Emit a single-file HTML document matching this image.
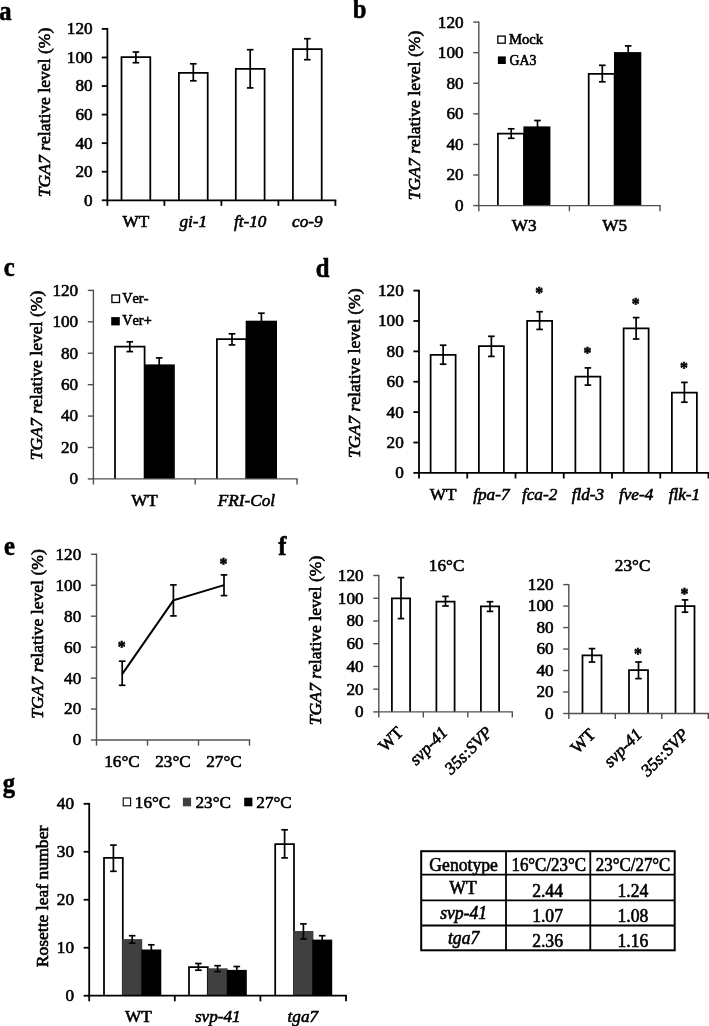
<!DOCTYPE html>
<html><head><meta charset="utf-8"><title>Figure</title>
<style>html,body{margin:0;padding:0;background:#fff}svg{display:block}text{font-family:"Liberation Serif",serif;fill:#000;font-kerning:none;stroke:#000;stroke-width:0.6px}</style>
</head><body>
<svg width="709" height="1026" viewBox="0 0 709 1026">
<rect width="709" height="1026" fill="#fff"/>
<text transform="translate(-0.80,19.60) scale(0.88,1)" text-anchor="start" font-size="28" font-weight="bold">a</text>
<text transform="translate(50.00,112.50) rotate(-90)" text-anchor="middle" font-size="17.6"><tspan font-style="italic">TGA7 r</tspan>elative level (%)</text>
<path d="M121.50 200.30V57.20H150.30V200.30" fill="#fff" stroke="#000" stroke-width="1.75"/>
<line x1="135.90" y1="52.00" x2="135.90" y2="62.70" stroke="#000" stroke-width="1.7"/>
<line x1="132.60" y1="52.00" x2="139.20" y2="52.00" stroke="#000" stroke-width="1.7"/>
<line x1="132.60" y1="62.70" x2="139.20" y2="62.70" stroke="#000" stroke-width="1.7"/>
<path d="M178.90 200.30V72.80H207.70V200.30" fill="#fff" stroke="#000" stroke-width="1.75"/>
<line x1="193.30" y1="63.80" x2="193.30" y2="80.80" stroke="#000" stroke-width="1.7"/>
<line x1="190.00" y1="63.80" x2="196.60" y2="63.80" stroke="#000" stroke-width="1.7"/>
<line x1="190.00" y1="80.80" x2="196.60" y2="80.80" stroke="#000" stroke-width="1.7"/>
<path d="M235.80 200.30V68.80H264.60V200.30" fill="#fff" stroke="#000" stroke-width="1.75"/>
<line x1="250.20" y1="49.70" x2="250.20" y2="87.90" stroke="#000" stroke-width="1.7"/>
<line x1="246.90" y1="49.70" x2="253.50" y2="49.70" stroke="#000" stroke-width="1.7"/>
<line x1="246.90" y1="87.90" x2="253.50" y2="87.90" stroke="#000" stroke-width="1.7"/>
<path d="M292.90 200.30V49.20H321.70V200.30" fill="#fff" stroke="#000" stroke-width="1.75"/>
<line x1="307.30" y1="38.70" x2="307.30" y2="59.70" stroke="#000" stroke-width="1.7"/>
<line x1="304.00" y1="38.70" x2="310.60" y2="38.70" stroke="#000" stroke-width="1.7"/>
<line x1="304.00" y1="59.70" x2="310.60" y2="59.70" stroke="#000" stroke-width="1.7"/>
<line x1="107.40" y1="28.00" x2="107.40" y2="205.90" stroke="#000" stroke-width="1.8"/>
<line x1="101.80" y1="200.30" x2="107.40" y2="200.30" stroke="#000" stroke-width="1.8"/>
<text transform="translate(92.60,205.70) scale(1.0,1)" text-anchor="end" font-size="17.2">0</text>
<line x1="101.80" y1="171.73" x2="107.40" y2="171.73" stroke="#000" stroke-width="1.8"/>
<text transform="translate(92.60,177.13) scale(1.0,1)" text-anchor="end" font-size="17.2">20</text>
<line x1="101.80" y1="143.17" x2="107.40" y2="143.17" stroke="#000" stroke-width="1.8"/>
<text transform="translate(92.60,148.57) scale(1.0,1)" text-anchor="end" font-size="17.2">40</text>
<line x1="101.80" y1="114.60" x2="107.40" y2="114.60" stroke="#000" stroke-width="1.8"/>
<text transform="translate(92.60,120.00) scale(1.0,1)" text-anchor="end" font-size="17.2">60</text>
<line x1="101.80" y1="86.03" x2="107.40" y2="86.03" stroke="#000" stroke-width="1.8"/>
<text transform="translate(92.60,91.43) scale(1.0,1)" text-anchor="end" font-size="17.2">80</text>
<line x1="101.80" y1="57.47" x2="107.40" y2="57.47" stroke="#000" stroke-width="1.8"/>
<text transform="translate(92.60,62.87) scale(1.0,1)" text-anchor="end" font-size="17.2">100</text>
<line x1="101.80" y1="28.90" x2="107.40" y2="28.90" stroke="#000" stroke-width="1.8"/>
<text transform="translate(92.60,34.30) scale(1.0,1)" text-anchor="end" font-size="17.2">120</text>
<line x1="106.50" y1="200.30" x2="336.30" y2="200.30" stroke="#000" stroke-width="1.8"/>
<line x1="164.40" y1="200.30" x2="164.40" y2="205.90" stroke="#000" stroke-width="1.8"/>
<line x1="221.40" y1="200.30" x2="221.40" y2="205.90" stroke="#000" stroke-width="1.8"/>
<line x1="278.40" y1="200.30" x2="278.40" y2="205.90" stroke="#000" stroke-width="1.8"/>
<line x1="335.40" y1="200.30" x2="335.40" y2="205.90" stroke="#000" stroke-width="1.8"/>
<text transform="translate(135.90,227.00) scale(1.0,1)" text-anchor="middle" font-size="17.2">WT</text>
<text transform="translate(193.30,227.00) scale(1.0,1)" text-anchor="middle" font-size="17.2" font-style="italic">gi-1</text>
<text transform="translate(250.20,227.00) scale(1.0,1)" text-anchor="middle" font-size="17.2" font-style="italic">ft-10</text>
<text transform="translate(307.30,227.00) scale(1.0,1)" text-anchor="middle" font-size="17.2" font-style="italic">co-9</text>
<text transform="translate(352.80,18.00) scale(0.88,1)" text-anchor="start" font-size="28" font-weight="bold">b</text>
<text transform="translate(419.50,115.50) rotate(-90)" text-anchor="middle" font-size="17.6"><tspan font-style="italic">TGA7 r</tspan>elative level (%)</text>
<path d="M497.90 205.60V133.50H524.00V205.60" fill="#fff" stroke="#000" stroke-width="1.75"/>
<line x1="511.20" y1="128.80" x2="511.20" y2="138.30" stroke="#000" stroke-width="1.7"/>
<line x1="507.90" y1="128.80" x2="514.50" y2="128.80" stroke="#000" stroke-width="1.7"/>
<line x1="507.90" y1="138.30" x2="514.50" y2="138.30" stroke="#000" stroke-width="1.7"/>
<rect x="523.40" y="126.40" width="27.00" height="79.20" fill="#000"/>
<line x1="537.50" y1="120.50" x2="537.50" y2="127.00" stroke="#000" stroke-width="1.7"/>
<line x1="534.20" y1="120.50" x2="540.80" y2="120.50" stroke="#000" stroke-width="1.7"/>
<path d="M588.70 205.60V73.80H614.60V205.60" fill="#fff" stroke="#000" stroke-width="1.75"/>
<line x1="602.30" y1="65.30" x2="602.30" y2="81.80" stroke="#000" stroke-width="1.7"/>
<line x1="599.00" y1="65.30" x2="605.60" y2="65.30" stroke="#000" stroke-width="1.7"/>
<line x1="599.00" y1="81.80" x2="605.60" y2="81.80" stroke="#000" stroke-width="1.7"/>
<rect x="614.00" y="52.10" width="27.30" height="153.50" fill="#000"/>
<line x1="628.20" y1="45.90" x2="628.20" y2="52.70" stroke="#000" stroke-width="1.7"/>
<line x1="624.90" y1="45.90" x2="631.50" y2="45.90" stroke="#000" stroke-width="1.7"/>
<line x1="478.80" y1="21.40" x2="478.80" y2="211.20" stroke="#505050" stroke-width="1.4"/>
<line x1="473.20" y1="205.60" x2="478.80" y2="205.60" stroke="#505050" stroke-width="1.4"/>
<text transform="translate(463.60,211.00) scale(1.0,1)" text-anchor="end" font-size="17.2">0</text>
<line x1="473.20" y1="175.02" x2="478.80" y2="175.02" stroke="#505050" stroke-width="1.4"/>
<text transform="translate(463.60,180.42) scale(1.0,1)" text-anchor="end" font-size="17.2">20</text>
<line x1="473.20" y1="144.43" x2="478.80" y2="144.43" stroke="#505050" stroke-width="1.4"/>
<text transform="translate(463.60,149.83) scale(1.0,1)" text-anchor="end" font-size="17.2">40</text>
<line x1="473.20" y1="113.85" x2="478.80" y2="113.85" stroke="#505050" stroke-width="1.4"/>
<text transform="translate(463.60,119.25) scale(1.0,1)" text-anchor="end" font-size="17.2">60</text>
<line x1="473.20" y1="83.27" x2="478.80" y2="83.27" stroke="#505050" stroke-width="1.4"/>
<text transform="translate(463.60,88.67) scale(1.0,1)" text-anchor="end" font-size="17.2">80</text>
<line x1="473.20" y1="52.68" x2="478.80" y2="52.68" stroke="#505050" stroke-width="1.4"/>
<text transform="translate(463.60,58.08) scale(1.0,1)" text-anchor="end" font-size="17.2">100</text>
<line x1="473.20" y1="22.10" x2="478.80" y2="22.10" stroke="#505050" stroke-width="1.4"/>
<text transform="translate(463.60,27.50) scale(1.0,1)" text-anchor="end" font-size="17.2">120</text>
<line x1="478.10" y1="205.60" x2="660.70" y2="205.60" stroke="#505050" stroke-width="1.4"/>
<line x1="569.40" y1="205.60" x2="569.40" y2="211.20" stroke="#505050" stroke-width="1.4"/>
<line x1="660.00" y1="205.60" x2="660.00" y2="211.20" stroke="#505050" stroke-width="1.4"/>
<text transform="translate(524.10,231.00) scale(1.0,1)" text-anchor="middle" font-size="17.2">W3</text>
<text transform="translate(614.70,231.00) scale(1.0,1)" text-anchor="middle" font-size="17.2">W5</text>
<rect x="497.8" y="36.1" width="7.4" height="7.1" fill="#fff" stroke="#000" stroke-width="1.3"/>
<text transform="translate(509.00,44.10) scale(1.0,1)" text-anchor="start" font-size="14.6">Mock</text>
<rect x="497.9" y="56.4" width="7.9" height="7.6" fill="#000"/>
<text transform="translate(509.40,64.50) scale(0.95,1)" text-anchor="start" font-size="14.6">GA3</text>
<text transform="translate(3.80,275.70) scale(0.88,1)" text-anchor="start" font-size="28" font-weight="bold">c</text>
<text transform="translate(42.00,375.50) rotate(-90)" text-anchor="middle" font-size="17.6"><tspan font-style="italic">TGA7 r</tspan>elative level (%)</text>
<path d="M115.00 478.90V346.60H144.60V478.90" fill="#fff" stroke="#000" stroke-width="1.75"/>
<line x1="129.80" y1="341.80" x2="129.80" y2="351.60" stroke="#000" stroke-width="1.7"/>
<line x1="126.50" y1="341.80" x2="133.10" y2="341.80" stroke="#000" stroke-width="1.7"/>
<line x1="126.50" y1="351.60" x2="133.10" y2="351.60" stroke="#000" stroke-width="1.7"/>
<rect x="144.00" y="364.40" width="30.80" height="114.50" fill="#000"/>
<line x1="159.20" y1="357.90" x2="159.20" y2="365.00" stroke="#000" stroke-width="1.7"/>
<line x1="155.90" y1="357.90" x2="162.50" y2="357.90" stroke="#000" stroke-width="1.7"/>
<path d="M216.90 478.90V339.10H246.30V478.90" fill="#fff" stroke="#000" stroke-width="1.75"/>
<line x1="232.00" y1="333.80" x2="232.00" y2="344.90" stroke="#000" stroke-width="1.7"/>
<line x1="228.70" y1="333.80" x2="235.30" y2="333.80" stroke="#000" stroke-width="1.7"/>
<line x1="228.70" y1="344.90" x2="235.30" y2="344.90" stroke="#000" stroke-width="1.7"/>
<rect x="245.70" y="320.70" width="31.30" height="158.20" fill="#000"/>
<line x1="261.40" y1="313.20" x2="261.40" y2="321.30" stroke="#000" stroke-width="1.7"/>
<line x1="258.10" y1="313.20" x2="264.70" y2="313.20" stroke="#000" stroke-width="1.7"/>
<line x1="93.40" y1="289.70" x2="93.40" y2="484.50" stroke="#505050" stroke-width="1.4"/>
<line x1="87.80" y1="478.90" x2="93.40" y2="478.90" stroke="#505050" stroke-width="1.4"/>
<text transform="translate(78.20,484.30) scale(1.0,1)" text-anchor="end" font-size="17.2">0</text>
<line x1="87.80" y1="447.48" x2="93.40" y2="447.48" stroke="#505050" stroke-width="1.4"/>
<text transform="translate(78.20,452.88) scale(1.0,1)" text-anchor="end" font-size="17.2">20</text>
<line x1="87.80" y1="416.07" x2="93.40" y2="416.07" stroke="#505050" stroke-width="1.4"/>
<text transform="translate(78.20,421.47) scale(1.0,1)" text-anchor="end" font-size="17.2">40</text>
<line x1="87.80" y1="384.65" x2="93.40" y2="384.65" stroke="#505050" stroke-width="1.4"/>
<text transform="translate(78.20,390.05) scale(1.0,1)" text-anchor="end" font-size="17.2">60</text>
<line x1="87.80" y1="353.23" x2="93.40" y2="353.23" stroke="#505050" stroke-width="1.4"/>
<text transform="translate(78.20,358.63) scale(1.0,1)" text-anchor="end" font-size="17.2">80</text>
<line x1="87.80" y1="321.82" x2="93.40" y2="321.82" stroke="#505050" stroke-width="1.4"/>
<text transform="translate(78.20,327.22) scale(1.0,1)" text-anchor="end" font-size="17.2">100</text>
<line x1="87.80" y1="290.40" x2="93.40" y2="290.40" stroke="#505050" stroke-width="1.4"/>
<text transform="translate(78.20,295.80) scale(1.0,1)" text-anchor="end" font-size="17.2">120</text>
<line x1="92.70" y1="478.90" x2="297.70" y2="478.90" stroke="#505050" stroke-width="1.4"/>
<line x1="195.20" y1="478.90" x2="195.20" y2="484.50" stroke="#505050" stroke-width="1.4"/>
<line x1="297.00" y1="478.90" x2="297.00" y2="484.50" stroke="#505050" stroke-width="1.4"/>
<text transform="translate(144.50,505.50) scale(1.0,1)" text-anchor="middle" font-size="17.2">WT</text>
<text transform="translate(246.50,505.50) scale(1.0,1)" text-anchor="middle" font-size="17.2" font-style="italic">FRI-Col</text>
<rect x="111.9" y="295.0" width="7.6" height="7.5" fill="#fff" stroke="#000" stroke-width="1.3"/>
<text transform="translate(122.20,303.30) scale(0.96,1)" text-anchor="start" font-size="14.9">Ver-</text>
<rect x="111.2" y="317.1" width="8.6" height="8.3" fill="#000"/>
<text transform="translate(122.20,325.10) scale(0.96,1)" text-anchor="start" font-size="14.9">Ver+</text>
<text transform="translate(315.80,276.60) scale(0.88,1)" text-anchor="start" font-size="28" font-weight="bold">d</text>
<text transform="translate(360.00,373.20) rotate(-90)" text-anchor="middle" font-size="17.6"><tspan font-style="italic">TGA7 r</tspan>elative level (%)</text>
<path d="M430.62 472.90V354.80H455.62V472.90" fill="#fff" stroke="#000" stroke-width="1.75"/>
<line x1="443.12" y1="345.20" x2="443.12" y2="364.20" stroke="#000" stroke-width="1.7"/>
<line x1="439.82" y1="345.20" x2="446.43" y2="345.20" stroke="#000" stroke-width="1.7"/>
<line x1="439.82" y1="364.20" x2="446.43" y2="364.20" stroke="#000" stroke-width="1.7"/>
<text transform="translate(443.12,499.50) scale(1.0,1)" text-anchor="middle" font-size="17.2">WT</text>
<path d="M478.88 472.90V346.20H503.88V472.90" fill="#fff" stroke="#000" stroke-width="1.75"/>
<line x1="491.38" y1="336.30" x2="491.38" y2="356.40" stroke="#000" stroke-width="1.7"/>
<line x1="488.07" y1="336.30" x2="494.68" y2="336.30" stroke="#000" stroke-width="1.7"/>
<line x1="488.07" y1="356.40" x2="494.68" y2="356.40" stroke="#000" stroke-width="1.7"/>
<text transform="translate(491.38,499.50) scale(1.0,1)" text-anchor="middle" font-size="17.2" font-style="italic">fpa-7</text>
<path d="M527.12 472.90V320.80H552.12V472.90" fill="#fff" stroke="#000" stroke-width="1.75"/>
<line x1="539.62" y1="311.70" x2="539.62" y2="329.40" stroke="#000" stroke-width="1.7"/>
<line x1="536.33" y1="311.70" x2="542.92" y2="311.70" stroke="#000" stroke-width="1.7"/>
<line x1="536.33" y1="329.40" x2="542.92" y2="329.40" stroke="#000" stroke-width="1.7"/>
<text transform="translate(539.12,298.40) scale(0.93,1)" text-anchor="middle" font-size="17" font-weight="bold">*</text>
<text transform="translate(539.62,499.50) scale(1.0,1)" text-anchor="middle" font-size="17.2" font-style="italic">fca-2</text>
<path d="M575.38 472.90V376.50H600.38V472.90" fill="#fff" stroke="#000" stroke-width="1.75"/>
<line x1="587.88" y1="367.90" x2="587.88" y2="385.10" stroke="#000" stroke-width="1.7"/>
<line x1="584.58" y1="367.90" x2="591.17" y2="367.90" stroke="#000" stroke-width="1.7"/>
<line x1="584.58" y1="385.10" x2="591.17" y2="385.10" stroke="#000" stroke-width="1.7"/>
<text transform="translate(587.38,357.90) scale(0.93,1)" text-anchor="middle" font-size="17" font-weight="bold">*</text>
<text transform="translate(587.88,499.50) scale(1.0,1)" text-anchor="middle" font-size="17.2" font-style="italic">fld-3</text>
<path d="M623.62 472.90V328.30H648.62V472.90" fill="#fff" stroke="#000" stroke-width="1.75"/>
<line x1="636.12" y1="317.60" x2="636.12" y2="339.00" stroke="#000" stroke-width="1.7"/>
<line x1="632.83" y1="317.60" x2="639.42" y2="317.60" stroke="#000" stroke-width="1.7"/>
<line x1="632.83" y1="339.00" x2="639.42" y2="339.00" stroke="#000" stroke-width="1.7"/>
<text transform="translate(635.62,309.10) scale(0.93,1)" text-anchor="middle" font-size="17" font-weight="bold">*</text>
<text transform="translate(636.12,499.50) scale(1.0,1)" text-anchor="middle" font-size="17.2" font-style="italic">fve-4</text>
<path d="M671.88 472.90V392.60H696.88V472.90" fill="#fff" stroke="#000" stroke-width="1.75"/>
<line x1="684.38" y1="382.40" x2="684.38" y2="402.20" stroke="#000" stroke-width="1.7"/>
<line x1="681.08" y1="382.40" x2="687.67" y2="382.40" stroke="#000" stroke-width="1.7"/>
<line x1="681.08" y1="402.20" x2="687.67" y2="402.20" stroke="#000" stroke-width="1.7"/>
<text transform="translate(683.88,372.90) scale(0.93,1)" text-anchor="middle" font-size="17" font-weight="bold">*</text>
<text transform="translate(684.38,499.50) scale(1.0,1)" text-anchor="middle" font-size="17.2" font-style="italic">flk-1</text>
<line x1="419.00" y1="289.70" x2="419.00" y2="478.50" stroke="#000" stroke-width="1.8"/>
<line x1="413.40" y1="472.90" x2="419.00" y2="472.90" stroke="#000" stroke-width="1.8"/>
<text transform="translate(403.80,478.30) scale(1.0,1)" text-anchor="end" font-size="17.2">0</text>
<line x1="413.40" y1="442.52" x2="419.00" y2="442.52" stroke="#000" stroke-width="1.8"/>
<text transform="translate(403.80,447.92) scale(1.0,1)" text-anchor="end" font-size="17.2">20</text>
<line x1="413.40" y1="412.13" x2="419.00" y2="412.13" stroke="#000" stroke-width="1.8"/>
<text transform="translate(403.80,417.53) scale(1.0,1)" text-anchor="end" font-size="17.2">40</text>
<line x1="413.40" y1="381.75" x2="419.00" y2="381.75" stroke="#000" stroke-width="1.8"/>
<text transform="translate(403.80,387.15) scale(1.0,1)" text-anchor="end" font-size="17.2">60</text>
<line x1="413.40" y1="351.37" x2="419.00" y2="351.37" stroke="#000" stroke-width="1.8"/>
<text transform="translate(403.80,356.77) scale(1.0,1)" text-anchor="end" font-size="17.2">80</text>
<line x1="413.40" y1="320.98" x2="419.00" y2="320.98" stroke="#000" stroke-width="1.8"/>
<text transform="translate(403.80,326.38) scale(1.0,1)" text-anchor="end" font-size="17.2">100</text>
<line x1="413.40" y1="290.60" x2="419.00" y2="290.60" stroke="#000" stroke-width="1.8"/>
<text transform="translate(403.80,296.00) scale(1.0,1)" text-anchor="end" font-size="17.2">120</text>
<line x1="418.10" y1="472.90" x2="709.40" y2="472.90" stroke="#000" stroke-width="1.8"/>
<line x1="467.25" y1="472.90" x2="467.25" y2="478.50" stroke="#000" stroke-width="1.8"/>
<line x1="515.50" y1="472.90" x2="515.50" y2="478.50" stroke="#000" stroke-width="1.8"/>
<line x1="563.75" y1="472.90" x2="563.75" y2="478.50" stroke="#000" stroke-width="1.8"/>
<line x1="612.00" y1="472.90" x2="612.00" y2="478.50" stroke="#000" stroke-width="1.8"/>
<line x1="660.25" y1="472.90" x2="660.25" y2="478.50" stroke="#000" stroke-width="1.8"/>
<line x1="708.50" y1="472.90" x2="708.50" y2="478.50" stroke="#000" stroke-width="1.8"/>
<text transform="translate(4.00,554.80) scale(0.88,1)" text-anchor="start" font-size="28" font-weight="bold">e</text>
<text transform="translate(43.00,634.00) rotate(-90)" text-anchor="middle" font-size="17.6"><tspan font-style="italic">TGA7 r</tspan>elative level (%)</text>
<line x1="96.50" y1="553.60" x2="96.50" y2="745.60" stroke="#505050" stroke-width="1.4"/>
<line x1="90.90" y1="740.00" x2="96.50" y2="740.00" stroke="#505050" stroke-width="1.4"/>
<text transform="translate(81.30,745.40) scale(1.0,1)" text-anchor="end" font-size="17.2">0</text>
<line x1="90.90" y1="709.05" x2="96.50" y2="709.05" stroke="#505050" stroke-width="1.4"/>
<text transform="translate(81.30,714.45) scale(1.0,1)" text-anchor="end" font-size="17.2">20</text>
<line x1="90.90" y1="678.10" x2="96.50" y2="678.10" stroke="#505050" stroke-width="1.4"/>
<text transform="translate(81.30,683.50) scale(1.0,1)" text-anchor="end" font-size="17.2">40</text>
<line x1="90.90" y1="647.15" x2="96.50" y2="647.15" stroke="#505050" stroke-width="1.4"/>
<text transform="translate(81.30,652.55) scale(1.0,1)" text-anchor="end" font-size="17.2">60</text>
<line x1="90.90" y1="616.20" x2="96.50" y2="616.20" stroke="#505050" stroke-width="1.4"/>
<text transform="translate(81.30,621.60) scale(1.0,1)" text-anchor="end" font-size="17.2">80</text>
<line x1="90.90" y1="585.25" x2="96.50" y2="585.25" stroke="#505050" stroke-width="1.4"/>
<text transform="translate(81.30,590.65) scale(1.0,1)" text-anchor="end" font-size="17.2">100</text>
<line x1="90.90" y1="554.30" x2="96.50" y2="554.30" stroke="#505050" stroke-width="1.4"/>
<text transform="translate(81.30,559.70) scale(1.0,1)" text-anchor="end" font-size="17.2">120</text>
<line x1="95.80" y1="740.00" x2="250.20" y2="740.00" stroke="#505050" stroke-width="1.4"/>
<line x1="147.50" y1="740.00" x2="147.50" y2="745.60" stroke="#505050" stroke-width="1.4"/>
<line x1="198.50" y1="740.00" x2="198.50" y2="745.60" stroke="#505050" stroke-width="1.4"/>
<line x1="249.50" y1="740.00" x2="249.50" y2="745.60" stroke="#505050" stroke-width="1.4"/>
<polyline points="122.2,674.1 173.4,600.4 224,585.1" fill="none" stroke="#000" stroke-width="2"/>
<line x1="122.20" y1="661.20" x2="122.20" y2="685.30" stroke="#000" stroke-width="1.7"/>
<line x1="118.90" y1="661.20" x2="125.50" y2="661.20" stroke="#000" stroke-width="1.7"/>
<line x1="118.90" y1="685.30" x2="125.50" y2="685.30" stroke="#000" stroke-width="1.7"/>
<line x1="173.40" y1="584.90" x2="173.40" y2="615.90" stroke="#000" stroke-width="1.7"/>
<line x1="170.10" y1="584.90" x2="176.70" y2="584.90" stroke="#000" stroke-width="1.7"/>
<line x1="170.10" y1="615.90" x2="176.70" y2="615.90" stroke="#000" stroke-width="1.7"/>
<line x1="224.00" y1="574.90" x2="224.00" y2="595.60" stroke="#000" stroke-width="1.7"/>
<line x1="220.70" y1="574.90" x2="227.30" y2="574.90" stroke="#000" stroke-width="1.7"/>
<line x1="220.70" y1="595.60" x2="227.30" y2="595.60" stroke="#000" stroke-width="1.7"/>
<text transform="translate(121.70,652.20) scale(0.93,1)" text-anchor="middle" font-size="17" font-weight="bold">*</text>
<text transform="translate(223.50,569.40) scale(0.93,1)" text-anchor="middle" font-size="17" font-weight="bold">*</text>
<text transform="translate(122.00,766.50) scale(1.0,1)" text-anchor="middle" font-size="17.2">16°C</text>
<text transform="translate(173.00,766.50) scale(1.0,1)" text-anchor="middle" font-size="17.2">23°C</text>
<text transform="translate(224.00,766.50) scale(1.0,1)" text-anchor="middle" font-size="17.2">27°C</text>
<text transform="translate(278.30,555.40) scale(0.88,1)" text-anchor="start" font-size="28" font-weight="bold">f</text>
<text transform="translate(321.00,640.50) rotate(-90)" text-anchor="middle" font-size="17.6"><tspan font-style="italic">TGA7 r</tspan>elative level (%)</text>
<path d="M391.90 711.90V598.30H410.10V711.90" fill="#fff" stroke="#000" stroke-width="1.75"/>
<line x1="401.00" y1="577.60" x2="401.00" y2="618.60" stroke="#000" stroke-width="1.7"/>
<line x1="397.70" y1="577.60" x2="404.30" y2="577.60" stroke="#000" stroke-width="1.7"/>
<line x1="397.70" y1="618.60" x2="404.30" y2="618.60" stroke="#000" stroke-width="1.7"/>
<path d="M436.40 711.90V601.50H454.60V711.90" fill="#fff" stroke="#000" stroke-width="1.75"/>
<line x1="445.50" y1="596.40" x2="445.50" y2="606.00" stroke="#000" stroke-width="1.7"/>
<line x1="442.20" y1="596.40" x2="448.80" y2="596.40" stroke="#000" stroke-width="1.7"/>
<line x1="442.20" y1="606.00" x2="448.80" y2="606.00" stroke="#000" stroke-width="1.7"/>
<path d="M480.90 711.90V606.30H499.10V711.90" fill="#fff" stroke="#000" stroke-width="1.75"/>
<line x1="490.00" y1="601.70" x2="490.00" y2="611.40" stroke="#000" stroke-width="1.7"/>
<line x1="486.70" y1="601.70" x2="493.30" y2="601.70" stroke="#000" stroke-width="1.7"/>
<line x1="486.70" y1="611.40" x2="493.30" y2="611.40" stroke="#000" stroke-width="1.7"/>
<line x1="378.80" y1="574.80" x2="378.80" y2="717.50" stroke="#505050" stroke-width="1.4"/>
<line x1="373.20" y1="711.90" x2="378.80" y2="711.90" stroke="#505050" stroke-width="1.4"/>
<text transform="translate(363.60,717.30) scale(1.0,1)" text-anchor="end" font-size="17.2">0</text>
<line x1="373.20" y1="689.17" x2="378.80" y2="689.17" stroke="#505050" stroke-width="1.4"/>
<text transform="translate(363.60,694.57) scale(1.0,1)" text-anchor="end" font-size="17.2">20</text>
<line x1="373.20" y1="666.43" x2="378.80" y2="666.43" stroke="#505050" stroke-width="1.4"/>
<text transform="translate(363.60,671.83) scale(1.0,1)" text-anchor="end" font-size="17.2">40</text>
<line x1="373.20" y1="643.70" x2="378.80" y2="643.70" stroke="#505050" stroke-width="1.4"/>
<text transform="translate(363.60,649.10) scale(1.0,1)" text-anchor="end" font-size="17.2">60</text>
<line x1="373.20" y1="620.97" x2="378.80" y2="620.97" stroke="#505050" stroke-width="1.4"/>
<text transform="translate(363.60,626.37) scale(1.0,1)" text-anchor="end" font-size="17.2">80</text>
<line x1="373.20" y1="598.23" x2="378.80" y2="598.23" stroke="#505050" stroke-width="1.4"/>
<text transform="translate(363.60,603.63) scale(1.0,1)" text-anchor="end" font-size="17.2">100</text>
<line x1="373.20" y1="575.50" x2="378.80" y2="575.50" stroke="#505050" stroke-width="1.4"/>
<text transform="translate(363.60,580.90) scale(1.0,1)" text-anchor="end" font-size="17.2">120</text>
<line x1="378.10" y1="711.90" x2="513.00" y2="711.90" stroke="#505050" stroke-width="1.4"/>
<line x1="423.30" y1="711.90" x2="423.30" y2="717.50" stroke="#505050" stroke-width="1.4"/>
<line x1="467.80" y1="711.90" x2="467.80" y2="717.50" stroke="#505050" stroke-width="1.4"/>
<line x1="512.30" y1="711.90" x2="512.30" y2="717.50" stroke="#505050" stroke-width="1.4"/>
<text transform="translate(446.60,570.90) scale(1.0,1)" text-anchor="middle" font-size="17.2">16°C</text>
<text transform="translate(404.20,733.50) rotate(-45) scale(1.0,1)" text-anchor="end" font-size="17.2">WT</text>
<text transform="translate(448.70,733.50) rotate(-45) scale(1.0,1)" text-anchor="end" font-size="17.2" font-style="italic">svp-41</text>
<text transform="translate(493.20,733.50) rotate(-45) scale(1.0,1)" text-anchor="end" font-size="17.2" font-style="italic">35s:SVP</text>
<path d="M582.50 713.50V655.30H601.50V713.50" fill="#fff" stroke="#000" stroke-width="1.75"/>
<line x1="592.00" y1="648.60" x2="592.00" y2="662.00" stroke="#000" stroke-width="1.7"/>
<line x1="588.70" y1="648.60" x2="595.30" y2="648.60" stroke="#000" stroke-width="1.7"/>
<line x1="588.70" y1="662.00" x2="595.30" y2="662.00" stroke="#000" stroke-width="1.7"/>
<path d="M629.00 713.50V670.10H648.00V713.50" fill="#fff" stroke="#000" stroke-width="1.75"/>
<line x1="638.50" y1="662.00" x2="638.50" y2="678.60" stroke="#000" stroke-width="1.7"/>
<line x1="635.20" y1="662.00" x2="641.80" y2="662.00" stroke="#000" stroke-width="1.7"/>
<line x1="635.20" y1="678.60" x2="641.80" y2="678.60" stroke="#000" stroke-width="1.7"/>
<text transform="translate(638.00,658.90) scale(0.93,1)" text-anchor="middle" font-size="17" font-weight="bold">*</text>
<path d="M675.50 713.50V606.00H694.50V713.50" fill="#fff" stroke="#000" stroke-width="1.75"/>
<line x1="685.00" y1="599.90" x2="685.00" y2="612.20" stroke="#000" stroke-width="1.7"/>
<line x1="681.70" y1="599.90" x2="688.30" y2="599.90" stroke="#000" stroke-width="1.7"/>
<line x1="681.70" y1="612.20" x2="688.30" y2="612.20" stroke="#000" stroke-width="1.7"/>
<text transform="translate(684.50,598.90) scale(0.93,1)" text-anchor="middle" font-size="17" font-weight="bold">*</text>
<line x1="568.80" y1="583.90" x2="568.80" y2="719.10" stroke="#505050" stroke-width="1.4"/>
<line x1="563.20" y1="713.50" x2="568.80" y2="713.50" stroke="#505050" stroke-width="1.4"/>
<text transform="translate(553.60,718.90) scale(1.0,1)" text-anchor="end" font-size="17.2">0</text>
<line x1="563.20" y1="692.02" x2="568.80" y2="692.02" stroke="#505050" stroke-width="1.4"/>
<text transform="translate(553.60,697.42) scale(1.0,1)" text-anchor="end" font-size="17.2">20</text>
<line x1="563.20" y1="670.53" x2="568.80" y2="670.53" stroke="#505050" stroke-width="1.4"/>
<text transform="translate(553.60,675.93) scale(1.0,1)" text-anchor="end" font-size="17.2">40</text>
<line x1="563.20" y1="649.05" x2="568.80" y2="649.05" stroke="#505050" stroke-width="1.4"/>
<text transform="translate(553.60,654.45) scale(1.0,1)" text-anchor="end" font-size="17.2">60</text>
<line x1="563.20" y1="627.57" x2="568.80" y2="627.57" stroke="#505050" stroke-width="1.4"/>
<text transform="translate(553.60,632.97) scale(1.0,1)" text-anchor="end" font-size="17.2">80</text>
<line x1="563.20" y1="606.08" x2="568.80" y2="606.08" stroke="#505050" stroke-width="1.4"/>
<text transform="translate(553.60,611.48) scale(1.0,1)" text-anchor="end" font-size="17.2">100</text>
<line x1="563.20" y1="584.60" x2="568.80" y2="584.60" stroke="#505050" stroke-width="1.4"/>
<text transform="translate(553.60,590.00) scale(1.0,1)" text-anchor="end" font-size="17.2">120</text>
<line x1="568.10" y1="713.50" x2="709.00" y2="713.50" stroke="#505050" stroke-width="1.4"/>
<line x1="615.30" y1="713.50" x2="615.30" y2="719.10" stroke="#505050" stroke-width="1.4"/>
<line x1="661.80" y1="713.50" x2="661.80" y2="719.10" stroke="#505050" stroke-width="1.4"/>
<line x1="708.30" y1="713.50" x2="708.30" y2="719.10" stroke="#505050" stroke-width="1.4"/>
<text transform="translate(632.60,570.90) scale(1.0,1)" text-anchor="middle" font-size="17.2">23°C</text>
<text transform="translate(596.50,735.50) rotate(-45) scale(1.0,1)" text-anchor="end" font-size="17.2">WT</text>
<text transform="translate(643.00,735.50) rotate(-45) scale(1.0,1)" text-anchor="end" font-size="17.2" font-style="italic">svp-41</text>
<text transform="translate(689.50,735.50) rotate(-45) scale(1.0,1)" text-anchor="end" font-size="17.2" font-style="italic">35s:SVP</text>
<text transform="translate(2.80,791.80) scale(0.88,1)" text-anchor="start" font-size="28" font-weight="bold">g</text>
<text transform="translate(48.00,896.50) rotate(-90)" text-anchor="middle" font-size="17.6">Rosette leaf number</text>
<path d="M104.00 995.70V857.90H122.80V995.70" fill="#fff" stroke="#000" stroke-width="1.75"/>
<line x1="113.40" y1="845.10" x2="113.40" y2="871.30" stroke="#000" stroke-width="1.7"/>
<line x1="110.10" y1="845.10" x2="116.70" y2="845.10" stroke="#000" stroke-width="1.7"/>
<line x1="110.10" y1="871.30" x2="116.70" y2="871.30" stroke="#000" stroke-width="1.7"/>
<rect x="122.20" y="939.10" width="20.00" height="56.60" fill="#404040"/>
<line x1="132.20" y1="935.70" x2="132.20" y2="943.20" stroke="#000" stroke-width="1.7"/>
<line x1="128.90" y1="935.70" x2="135.50" y2="935.70" stroke="#000" stroke-width="1.7"/>
<line x1="128.90" y1="943.20" x2="135.50" y2="943.20" stroke="#000" stroke-width="1.7"/>
<rect x="141.30" y="949.50" width="20.00" height="46.20" fill="#000"/>
<line x1="151.30" y1="944.80" x2="151.30" y2="950.10" stroke="#000" stroke-width="1.7"/>
<line x1="148.00" y1="944.80" x2="154.60" y2="944.80" stroke="#000" stroke-width="1.7"/>
<path d="M189.00 995.70V967.00H207.80V995.70" fill="#fff" stroke="#000" stroke-width="1.75"/>
<line x1="198.40" y1="963.50" x2="198.40" y2="970.20" stroke="#000" stroke-width="1.7"/>
<line x1="195.10" y1="963.50" x2="201.70" y2="963.50" stroke="#000" stroke-width="1.7"/>
<line x1="195.10" y1="970.20" x2="201.70" y2="970.20" stroke="#000" stroke-width="1.7"/>
<rect x="207.60" y="968.30" width="20.00" height="27.40" fill="#404040"/>
<line x1="217.60" y1="965.70" x2="217.60" y2="971.60" stroke="#000" stroke-width="1.7"/>
<line x1="214.30" y1="965.70" x2="220.90" y2="965.70" stroke="#000" stroke-width="1.7"/>
<line x1="214.30" y1="971.60" x2="220.90" y2="971.60" stroke="#000" stroke-width="1.7"/>
<rect x="226.80" y="969.90" width="20.00" height="25.80" fill="#000"/>
<line x1="236.80" y1="966.50" x2="236.80" y2="970.50" stroke="#000" stroke-width="1.7"/>
<line x1="233.50" y1="966.50" x2="240.10" y2="966.50" stroke="#000" stroke-width="1.7"/>
<path d="M275.20 995.70V844.00H294.00V995.70" fill="#fff" stroke="#000" stroke-width="1.75"/>
<line x1="284.60" y1="829.80" x2="284.60" y2="857.90" stroke="#000" stroke-width="1.7"/>
<line x1="281.30" y1="829.80" x2="287.90" y2="829.80" stroke="#000" stroke-width="1.7"/>
<line x1="281.30" y1="857.90" x2="287.90" y2="857.90" stroke="#000" stroke-width="1.7"/>
<rect x="293.40" y="931.00" width="20.00" height="64.70" fill="#404040"/>
<line x1="303.40" y1="923.90" x2="303.40" y2="938.90" stroke="#000" stroke-width="1.7"/>
<line x1="300.10" y1="923.90" x2="306.70" y2="923.90" stroke="#000" stroke-width="1.7"/>
<line x1="300.10" y1="938.90" x2="306.70" y2="938.90" stroke="#000" stroke-width="1.7"/>
<rect x="312.20" y="939.60" width="20.00" height="56.10" fill="#000"/>
<line x1="322.20" y1="935.70" x2="322.20" y2="940.20" stroke="#000" stroke-width="1.7"/>
<line x1="318.90" y1="935.70" x2="325.50" y2="935.70" stroke="#000" stroke-width="1.7"/>
<line x1="89.20" y1="802.90" x2="89.20" y2="1001.30" stroke="#000" stroke-width="1.8"/>
<line x1="83.60" y1="995.70" x2="89.20" y2="995.70" stroke="#000" stroke-width="1.8"/>
<text transform="translate(74.00,1001.10) scale(1.0,1)" text-anchor="end" font-size="17.2">0</text>
<line x1="83.60" y1="947.73" x2="89.20" y2="947.73" stroke="#000" stroke-width="1.8"/>
<text transform="translate(74.00,953.12) scale(1.0,1)" text-anchor="end" font-size="17.2">10</text>
<line x1="83.60" y1="899.75" x2="89.20" y2="899.75" stroke="#000" stroke-width="1.8"/>
<text transform="translate(74.00,905.15) scale(1.0,1)" text-anchor="end" font-size="17.2">20</text>
<line x1="83.60" y1="851.77" x2="89.20" y2="851.77" stroke="#000" stroke-width="1.8"/>
<text transform="translate(74.00,857.17) scale(1.0,1)" text-anchor="end" font-size="17.2">30</text>
<line x1="83.60" y1="803.80" x2="89.20" y2="803.80" stroke="#000" stroke-width="1.8"/>
<text transform="translate(74.00,809.20) scale(1.0,1)" text-anchor="end" font-size="17.2">40</text>
<line x1="88.30" y1="995.70" x2="346.90" y2="995.70" stroke="#000" stroke-width="1.8"/>
<line x1="174.80" y1="995.70" x2="174.80" y2="1001.30" stroke="#000" stroke-width="1.8"/>
<line x1="260.40" y1="995.70" x2="260.40" y2="1001.30" stroke="#000" stroke-width="1.8"/>
<line x1="346.00" y1="995.70" x2="346.00" y2="1001.30" stroke="#000" stroke-width="1.8"/>
<text transform="translate(138.30,1022.00) scale(1.0,1)" text-anchor="middle" font-size="17.2">WT</text>
<text transform="translate(217.80,1022.00) scale(1.0,1)" text-anchor="middle" font-size="17.2" font-style="italic">svp-41</text>
<text transform="translate(302.80,1022.00) scale(1.0,1)" text-anchor="middle" font-size="17.2" font-style="italic">tga7</text>
<rect x="123.2" y="798" width="7.4" height="7.8" fill="#fff" stroke="#000" stroke-width="1.1"/>
<text transform="translate(134.80,807.50) scale(1.0,1)" text-anchor="start" font-size="17.2">16°C</text>
<rect x="182.9" y="797.7" width="8.2" height="8.6" fill="#404040"/>
<text transform="translate(195.50,807.50) scale(1.0,1)" text-anchor="start" font-size="17.2">23°C</text>
<rect x="244.2" y="797.7" width="8.2" height="8.6" fill="#000"/>
<text transform="translate(256.30,807.50) scale(1.0,1)" text-anchor="start" font-size="17.2">27°C</text>
<rect x="421.2" y="851.2" width="253.50000000000006" height="99.09999999999991" fill="none" stroke="#000" stroke-width="2"/>
<line x1="506.00" y1="851.20" x2="506.00" y2="950.30" stroke="#000" stroke-width="1.8"/>
<line x1="590.30" y1="851.20" x2="590.30" y2="950.30" stroke="#000" stroke-width="1.8"/>
<line x1="421.20" y1="874.70" x2="674.70" y2="874.70" stroke="#000" stroke-width="1.8"/>
<line x1="421.20" y1="900.30" x2="674.70" y2="900.30" stroke="#000" stroke-width="1.8"/>
<line x1="421.20" y1="925.50" x2="674.70" y2="925.50" stroke="#000" stroke-width="1.8"/>
<text transform="translate(463.60,870.50) scale(0.99,1)" text-anchor="middle" font-size="17.8">Genotype</text>
<text transform="translate(548.75,870.50) scale(0.95,1)" text-anchor="middle" font-size="17.8">16°C/23°C</text>
<text transform="translate(633.10,870.50) scale(0.95,1)" text-anchor="middle" font-size="17.8">23°C/27°C</text>
<text transform="translate(463.00,894.30) scale(0.99,1)" text-anchor="middle" font-size="17.8">WT</text>
<text transform="translate(547.55,896.70) scale(0.99,1)" text-anchor="middle" font-size="17.8">2.44</text>
<text transform="translate(632.90,896.70) scale(0.99,1)" text-anchor="middle" font-size="17.8">1.24</text>
<text transform="translate(463.60,918.70) scale(0.99,1)" text-anchor="middle" font-size="17.8" font-style="italic">svp-41</text>
<text transform="translate(547.55,922.00) scale(0.99,1)" text-anchor="middle" font-size="17.8">1.07</text>
<text transform="translate(632.90,922.00) scale(0.99,1)" text-anchor="middle" font-size="17.8">1.08</text>
<text transform="translate(463.60,944.10) scale(0.99,1)" text-anchor="middle" font-size="17.8" font-style="italic">tga7</text>
<text transform="translate(547.55,947.40) scale(0.99,1)" text-anchor="middle" font-size="17.8">2.36</text>
<text transform="translate(632.90,947.40) scale(0.99,1)" text-anchor="middle" font-size="17.8">1.16</text>
</svg>
</body></html>
